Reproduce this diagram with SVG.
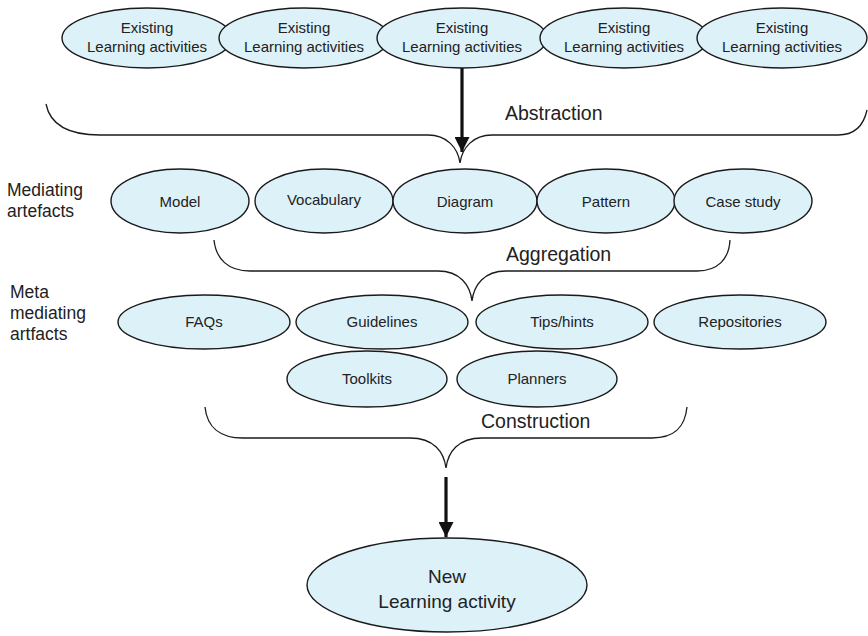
<svg xmlns="http://www.w3.org/2000/svg" width="868" height="636" viewBox="0 0 868 636">
<defs>
<style>
.n{fill:#ddf1f9;stroke:#1a1a1a;stroke-width:1.4}
.t{font-family:"Liberation Sans",Arial,sans-serif;font-size:15px;fill:#222;text-anchor:middle}
.big{font-family:"Liberation Sans",Arial,sans-serif;font-size:19px;fill:#222;text-anchor:middle}
.lbl{font-family:"Liberation Sans",Arial,sans-serif;font-size:19.5px;fill:#222}
.side{font-family:"Liberation Sans",Arial,sans-serif;font-size:17.5px;fill:#222}
.brace{fill:none;stroke:#1a1a1a;stroke-width:1.3}
.arr{fill:none;stroke:#111;stroke-width:3.2}
</style>
<marker id="ah" viewBox="0 0 10 10" refX="10" refY="5" markerUnits="userSpaceOnUse" markerWidth="15" markerHeight="15" orient="auto">
<path d="M0,0 L10,5 L0,10 z" fill="#111"/>
</marker>
</defs>
<rect width="868" height="636" fill="#fff"/>

<g id="existing1"><ellipse class="n" cx="147" cy="38" rx="85" ry="30"/><text class="t" x="147" y="33">Existing</text><text class="t" x="147" y="52">Learning activities</text></g>
<g id="existing2"><ellipse class="n" cx="304" cy="38" rx="85" ry="30"/><text class="t" x="304" y="33">Existing</text><text class="t" x="304" y="52">Learning activities</text></g>
<g id="existing3"><ellipse class="n" cx="462" cy="38" rx="85" ry="30"/><text class="t" x="462" y="33">Existing</text><text class="t" x="462" y="52">Learning activities</text></g>
<g id="existing4"><ellipse class="n" cx="624" cy="38" rx="84" ry="30"/><text class="t" x="624" y="33">Existing</text><text class="t" x="624" y="52">Learning activities</text></g>
<g id="existing5"><ellipse class="n" cx="782" cy="38" rx="85" ry="30"/><text class="t" x="782" y="33">Existing</text><text class="t" x="782" y="52">Learning activities</text></g>

<g id="label-mediating"><text class="side" x="7" y="196">Mediating</text><text class="side" x="7" y="217">artefacts</text></g>
<g id="label-meta"><text class="side" x="10" y="298">Meta</text><text class="side" x="10" y="319">mediating</text><text class="side" x="10" y="340">artfacts</text></g>

<g id="model"><ellipse class="n" cx="180" cy="201" rx="69" ry="32"/><text class="t" x="180" y="207">Model</text></g>
<g id="vocabulary"><ellipse class="n" cx="324" cy="201" rx="69" ry="32"/><text class="t" x="324" y="205">Vocabulary</text></g>
<g id="diagram"><ellipse class="n" cx="465" cy="201" rx="72" ry="32"/><text class="t" x="465" y="207">Diagram</text></g>
<g id="pattern"><ellipse class="n" cx="606" cy="201" rx="69" ry="32"/><text class="t" x="606" y="207">Pattern</text></g>
<g id="casestudy"><ellipse class="n" cx="743" cy="201" rx="69" ry="32"/><text class="t" x="743" y="207">Case study</text></g>

<g id="faqs"><ellipse class="n" cx="204" cy="322" rx="86" ry="27"/><text class="t" x="204" y="327">FAQs</text></g>
<g id="guidelines"><ellipse class="n" cx="382" cy="322" rx="86" ry="27"/><text class="t" x="382" y="327">Guidelines</text></g>
<g id="tipshints"><ellipse class="n" cx="562" cy="322" rx="86" ry="27"/><text class="t" x="562" y="327">Tips/hints</text></g>
<g id="repositories"><ellipse class="n" cx="740" cy="322" rx="86" ry="27"/><text class="t" x="740" y="327">Repositories</text></g>
<g id="toolkits"><ellipse class="n" cx="367" cy="379" rx="80" ry="28"/><text class="t" x="367" y="384">Toolkits</text></g>
<g id="planners"><ellipse class="n" cx="537" cy="379" rx="80" ry="28"/><text class="t" x="537" y="384">Planners</text></g>

<g id="newactivity"><ellipse class="n" cx="447" cy="585" rx="140" ry="47"/><text class="big" x="447" y="583">New</text><text class="big" x="447" y="608">Learning activity</text></g>

<g id="connectors">
<path class="brace" d="M46,104 C50,124 68,135 100,135 L428,135 C447,135 458,148 460,163 C462,148 473,135 492,135 L838,135 C856,135 864,124 867,110"/>
<path class="brace" d="M214,240 C216,259 228,271 250,271 L438,271 C460,271 470,285 472,301 C474,285 484,271 506,271 L697,271 C718,271 729,259 730,240"/>
<path class="brace" d="M205,407 C207,427 220,438 243,438 L410,438 C434,438 444,452 446,468 C448,452 458,438 482,438 L652,438 C675,438 685,427 687,407"/>
<line class="arr" x1="462" y1="68" x2="462" y2="152" marker-end="url(#ah)"/>
<line class="arr" x1="446" y1="477" x2="446" y2="537" marker-end="url(#ah)"/>
<text class="lbl" x="505" y="120">Abstraction</text>
<text class="lbl" x="506" y="261">Aggregation</text>
<text class="lbl" x="481" y="428">Construction</text>
</g>
</svg>
